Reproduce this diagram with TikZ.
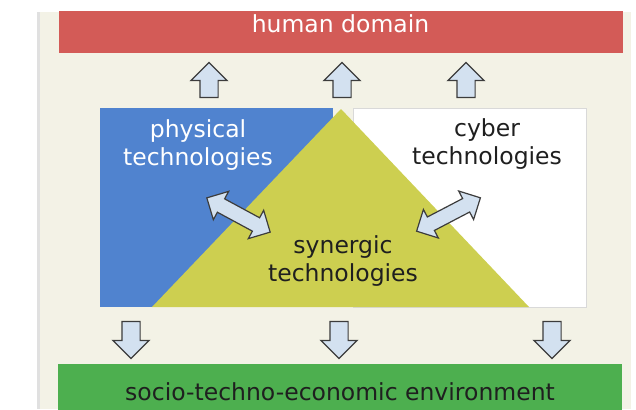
\documentclass[tikz,border=0pt]{standalone}
\usepackage{fontspec}
\setmainfont{DejaVu Sans}
\usepackage{tikz}
\usetikzlibrary{shapes.geometric, shapes.arrows}
\definecolor{panel}{HTML}{F3F2E6}
\definecolor{humanred}{HTML}{D35B57}
\definecolor{physblue}{HTML}{5083CF}
\definecolor{synyellow}{HTML}{CDCF50}
\definecolor{envgreen}{HTML}{4DAF4F}
\definecolor{arrowfill}{HTML}{D3E1F0}
\definecolor{arrowline}{HTML}{3C3C3C}
\definecolor{textdark}{HTML}{1F1F1F}
\tikzstyle{boxtext} = [font=\fontsize{23.5}{28}\selectfont, align=center, text=textdark]
\tikzstyle{bar} = [rectangle, inner sep=0pt, minimum width=564pt, boxtext]
\tikzstyle{block} = [rectangle, inner sep=0pt, minimum width=233pt, minimum height=199pt]
\tikzstyle{flowarrow} = [single arrow, draw=arrowline, fill=arrowfill, line width=1.2pt, inner sep=8.5pt, single arrow head extend=9pt, minimum height=35pt]
\tikzstyle{linkarrow} = [double arrow, draw=arrowline, fill=arrowfill, line width=1.2pt, inner sep=7pt, double arrow head extend=8.5pt, minimum height=72pt]

\begin{document}
\begin{tikzpicture}[x=1pt, y=-1pt]
\useasboundingbox (0,0) rectangle (636,409);
\clip (0,12) rectangle (636,409);
\fill[panel] (37,12) rectangle (631,409);
\draw[black!12, line width=3pt] (38.5,12) -- (38.5,409);
% top and bottom bars
\node (human) [bar, fill=humanred, text=white, minimum height=59.5pt] at (340.5,23.25) {human domain};
\node (env) [bar, fill=envgreen, minimum height=56pt] at (340,392) {socio-techno-economic environment};
% technology blocks
\node (phys) [block, fill=physblue] at (216.5,207.5) {};
\node (cyber) [block, fill=white, draw=black!15] at (469.5,207.5) {};
\fill[synyellow] (341,109) -- (529,307) -- (152,307) -- cycle;
\node (phystext) [boxtext, text=white] at (198,145) {physical\\technologies};
\node (cybertext) [boxtext] at (487,144) {cyber\\technologies};
\node (syntext) [boxtext] at (343,261) {synergic\\technologies};
% arrows
\foreach \x [count=\i] in {209,342,466}
  \node (up\i) [flowarrow, rotate=90] at (\x,84.5) {};
\foreach \x [count=\i] in {131,339,552}
  \node (down\i) [flowarrow, rotate=-90, minimum height=37pt] at (\x,335.5) {};
\node (physlink) [linkarrow, rotate=-28.4] at (238.5,215) {};
\node (cyberlink) [linkarrow, rotate=27.6] at (448.5,214.5) {};
\end{tikzpicture}
\end{document}
